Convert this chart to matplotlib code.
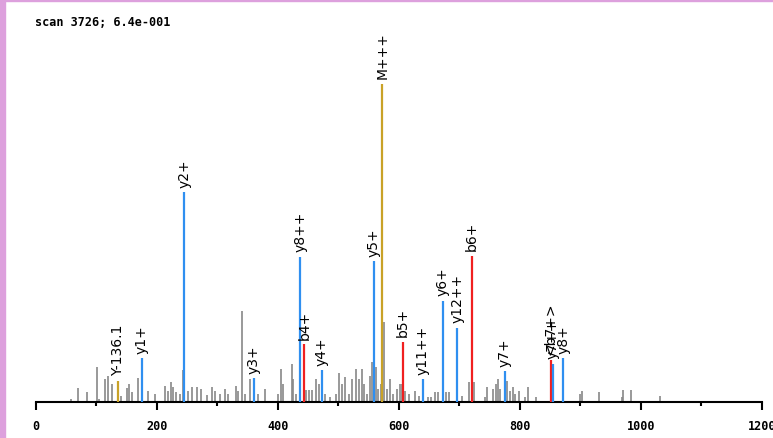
import matplotlib
matplotlib.use("Agg")
import matplotlib.pyplot as plt
from matplotlib.patches import Rectangle

# unassigned peaks (m/z, relative intensity, M+++ = 100)
grey_mz = [58, 71, 85, 101, 105, 115, 120, 126, 142, 151, 154, 159, 170, 186, 197,
           214, 219, 224, 227, 232, 239, 244, 252, 258, 266, 274, 283, 291, 296, 305,
           313, 318, 331, 335, 341, 346, 354, 367, 379, 401, 405, 409, 423, 426, 431,
           447, 452, 457, 464, 469, 478, 486, 497, 502, 507, 511, 517, 522, 530, 535,
           539, 543, 547, 552, 556, 562, 566, 570, 576, 580, 585, 591, 597, 602, 605,
           610, 617, 627, 634, 649, 654, 660, 665, 678, 683, 704, 716, 724, 742, 745,
           756, 761, 764, 768, 779, 784, 788, 792, 799, 808, 814, 827, 899, 902, 931,
           968, 971, 983, 1031]
grey_int = [1.0, 4.4, 3.1, 11.0, 1.0, 7.2, 8.2, 5.7, 1.9, 4.4, 5.7, 3.1, 7.5, 3.5, 2.5,
            5.0, 3.5, 6.3, 4.7, 3.1, 2.5, 10.0, 3.5, 4.7, 4.7, 4.0, 2.2, 4.7, 3.5, 2.5,
            4.0, 2.5, 5.0, 3.5, 28.6, 2.5, 7.2, 2.5, 4.1, 2.5, 10.4, 5.7, 12.0, 7.2, 2.5,
            3.8, 3.8, 3.8, 7.2, 5.7, 2.5, 1.6, 2.5, 9.1, 5.7, 7.9, 2.5, 7.2, 10.4, 7.2,
            10.4, 5.7, 2.5, 8.2, 12.6, 11.0, 4.1, 5.7, 25.2, 4.1, 7.2, 2.5, 4.1, 5.7, 5.7,
            3.5, 2.5, 3.5, 1.9, 1.6, 1.6, 3.1, 3.1, 3.1, 3.1, 1.9, 6.3, 6.3, 1.6, 4.7,
            4.1, 5.7, 7.2, 4.1, 6.6, 3.5, 4.7, 2.5, 3.5, 1.6, 4.7, 1.6, 2.5, 3.5, 3.1,
            1.6, 3.8, 3.8, 1.9]

# assigned peaks
ion_mz = [136.1, 176, 246, 361, 437, 444, 473, 559, 573, 607, 640, 673, 697, 721,
          775, 851, 854, 872]
ion_int = [6.6, 13.8, 66.0, 7.5, 45.6, 18.2, 10.0, 44.3, 100.0, 18.9, 7.2, 31.8, 23.3,
           45.9, 9.7, 13.2, 12.0, 13.8]
ion_label = ["Y-136.1", "y1+", "y2+", "y3+", "y8++", "b4+", "y4+", "y5+", "M+++", "b5+",
             "y11++", "y6+", "y12++", "b6+", "y7+", "<b7+>", "y7++", "y8+"]
ion_kind = ["M", "y", "y", "y", "y", "b", "y", "y", "M", "b",
            "y", "y", "y", "b", "y", "b", "y", "y"]

colors = {"y": "#2f8ff0", "b": "#f02020", "M": "#c9a227"}

W, H = 773, 439
fig = plt.figure(figsize=(W / 100, H / 100), dpi=100)
fig.patch.set_facecolor("white")

# pink frame on the left and top
fig.add_artist(Rectangle((0, 0), 5 / W, 1, transform=fig.transFigure,
                         color="#dda0dd", zorder=10))
fig.add_artist(Rectangle((0, 1 - 2 / H), 1, 2 / H, transform=fig.transFigure,
                         color="#dda0dd", zorder=10))

x0, x1 = 35.5, 762
ybase, ytop = 403, 20
ax = fig.add_axes([x0 / W, (H - ybase) / H, (x1 - x0) / W, (ybase - ytop) / H])
ax.set_xlim(0, 1200)
ax.set_ylim(0, 100 * (ybase - ytop) / 318)

ax.vlines(grey_mz, 0, grey_int, color="#888888", lw=1.2)
for mz, inten, lab, kind in zip(ion_mz, ion_int, ion_label, ion_kind):
    ax.vlines(mz, 0, inten, color=colors[kind], lw=1.6, zorder=3)
    ax.annotate(lab, (mz, inten), xytext=(0, 4), textcoords="offset points",
                rotation=90, ha="center", va="bottom", fontsize=10,
                family="DejaVu Sans")

for s in ["left", "right", "top"]:
    ax.spines[s].set_visible(False)
ax.spines["bottom"].set_linewidth(1.5)
ax.set_yticks([])
ax.set_xticks(range(0, 1201, 200))
ax.set_xticks(range(100, 1200, 200), minor=True)
ax.tick_params(axis="x", which="major", length=6, width=1.5, pad=6,
               labelsize=8.5)
ax.tick_params(axis="x", which="minor", length=3, width=1.5)
for t in ax.get_xticklabels():
    t.set_family("DejaVu Sans Mono")
    t.set_fontweight("bold")

fig.text(35 / W, 1 - 22 / H, "scan 3726; 6.4e-001", family="DejaVu Sans Mono",
         fontsize=8.5, fontweight="bold", va="center", ha="left")

fig.savefig("out.png", dpi=100)
